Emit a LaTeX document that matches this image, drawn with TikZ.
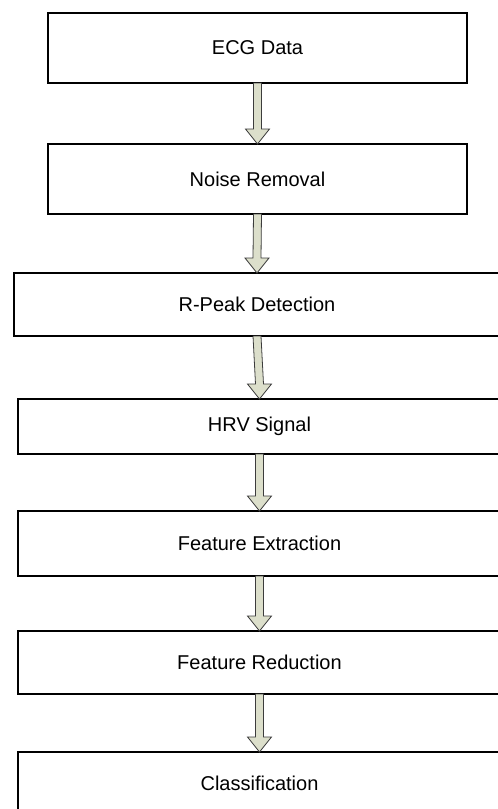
\documentclass[tikz,border=0pt]{standalone}
\usepackage{fontspec}
\setmainfont{Liberation Sans}
\usetikzlibrary{calc}
\usetikzlibrary{positioning}

\definecolor{arrowfill}{RGB}{220,223,203}
\definecolor{arrowline}{RGB}{60,60,60}

\tikzset{
	stagebox/.style={draw=black, line width=1.2pt, fill=white, align=center,
		font=\fontsize{20}{24}\selectfont, inner sep=0pt, outer sep=0pt},
	flowarr/.style={draw=arrowline, line width=0.8pt, fill=arrowfill, line join=miter}
}

% block arrow from the bottom of one box to the top of the next
\newcommand{\flowarrow}[2]{%
	\draw[flowarr] ($(#1.south)+(-4pt,0)$) -- ($(#2.north)+(-4pt,15pt)$)
		-- ($(#2.north)+(-12pt,15pt)$) -- (#2.north) -- ($(#2.north)+(12pt,15pt)$)
		-- ($(#2.north)+(4pt,15pt)$) -- ($(#1.south)+(4pt,0)$) -- cycle;}

\begin{document}
\begin{tikzpicture}
	\useasboundingbox (0,0) rectangle (498pt,-809pt);
	\clip (0,0) rectangle (498pt,-809pt);
	\node[stagebox, minimum width=419pt, minimum height=70pt] (ecg) at (257.5pt,-48pt) {ECG Data};
	\node[stagebox, minimum width=419pt, minimum height=70pt, below=61pt of ecg] (noise) {Noise Removal};
	\node[stagebox, minimum width=486pt, minimum height=63pt, below=59pt of noise, xshift=-0.5pt] (rpeak) {R-Peak Detection};
	\node[stagebox, minimum width=483pt, minimum height=55pt, below=63pt of rpeak, xshift=2.5pt] (hrv) {HRV Signal};
	\node[stagebox, minimum width=483pt, minimum height=65pt, below=57pt of hrv] (fext) {Feature Extraction};
	\node[stagebox, minimum width=483pt, minimum height=63pt, below=55pt of fext] (fred) {Feature Reduction};
	\node[stagebox, minimum width=483pt, minimum height=62pt, below=58pt of fred] (classif) {Classification};
	\flowarrow{ecg}{noise}
	\flowarrow{noise}{rpeak}
	\flowarrow{rpeak}{hrv}
	\flowarrow{hrv}{fext}
	\flowarrow{fext}{fred}
	\flowarrow{fred}{classif}
\end{tikzpicture}
\end{document}
